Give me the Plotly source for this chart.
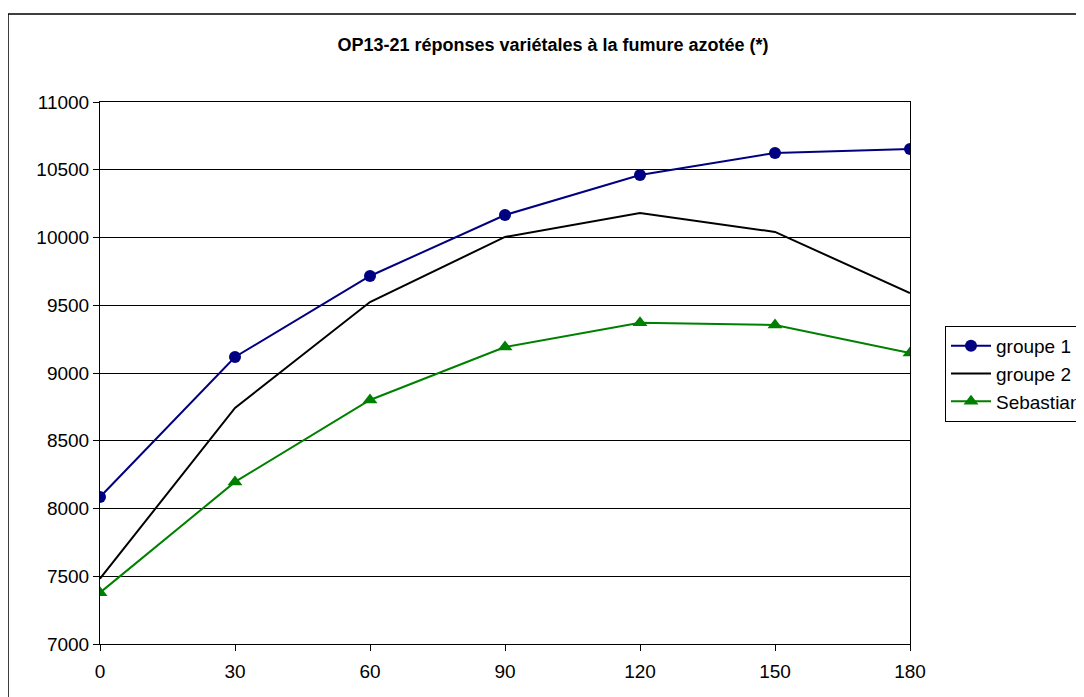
import plotly.graph_objects as go

doses = [0, 30, 60, 90, 120, 150, 180]
groupe1 = [8085, 9118, 9716, 10166, 10461, 10624, 10653]
groupe2 = [7482, 8742, 9524, 10004, 10181, 10041, 9590]
sebastian = [7379, 8196, 8801, 9192, 9371, 9354, 9148]
yticks = [7000, 7500, 8000, 8500, 9000, 9500, 10000, 10500, 11000]
title = "OP13-21 réponses variétales à la fumure azotée (*)"

W, H = 1084, 697
OFF = 8  # page body offset
L, T = 100 - OFF, 102 - OFF
pw, ph = 810, 542
R = W - L - pw
B = H - T - ph

def px_x(x):
    return (x - OFF - L) / pw

def px_y(y):
    return (T + ph - (y - OFF)) / ph

fig = go.Figure()
fig.add_trace(go.Scatter(x=doses, y=groupe1, name="groupe 1", mode="lines+markers",
                         line=dict(color="#000080", width=2),
                         marker=dict(symbol="circle", size=12, color="#000080")))
fig.add_trace(go.Scatter(x=doses, y=groupe2, name="groupe 2", mode="lines",
                         line=dict(color="#000000", width=2)))
fig.add_trace(go.Scatter(x=doses, y=sebastian, name="Sebastian", mode="lines+markers",
                         line=dict(color="#008000", width=2),
                         marker=dict(symbol="triangle-up", size=13, color="#008000")))

font = "Liberation Sans, Arial, sans-serif"
fig.update_layout(
    width=W, height=H,
    margin=dict(l=L, r=R, t=T, b=B, autoexpand=False),
    paper_bgcolor="white", plot_bgcolor="white",
    title=dict(text="<b>" + title + "</b>", x=px_x(553), xref="paper", xanchor="center",
               y=1 - (45 - OFF) / H, yanchor="middle",
               font=dict(family=font, size=18, color="black")),
    font=dict(family=font, color="black"),
    showlegend=True,
    legend=dict(x=px_x(945), y=px_y(326), xanchor="left", yanchor="top",
                bordercolor="black", borderwidth=1, bgcolor="white",
                font=dict(family=font, size=19, color="black"),
                tracegroupgap=0, itemwidth=40),
    shapes=[dict(type="rect", xref="paper", yref="paper",
                 x0=px_x(8), x1=px_x(1300), y0=px_y(900), y1=px_y(14),
                 line=dict(color="black", width=1.5), layer="below")],
)
fig.update_xaxes(range=[0, 180], tickvals=doses, ticktext=[str(d) for d in doses],
                 showgrid=False, zeroline=False, showline=True, linecolor="black",
                 linewidth=1, mirror=True, ticks="outside", ticklen=6, tickcolor="black",
                 ticklabelstandoff=4, automargin=False,
                 tickfont=dict(family=font, size=19, color="black"))
fig.update_yaxes(range=[7000, 11000], tickvals=yticks, ticktext=[str(v) for v in yticks],
                 showgrid=True, gridcolor="#000000", gridwidth=1, zeroline=False,
                 showline=True, linecolor="black", linewidth=1, mirror=True,
                 ticks="outside", ticklen=6, tickcolor="black", automargin=False,
                 tickfont=dict(family=font, size=19, color="black"))

fig.write_html("out.html")
